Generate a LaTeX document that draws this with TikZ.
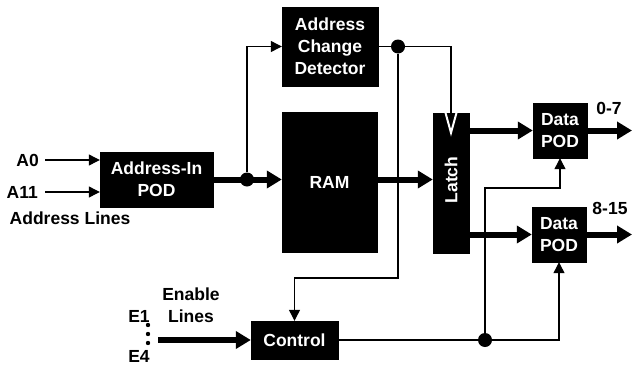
\documentclass[tikz,border=0pt]{standalone}
\usepackage{fontspec}
\setsansfont{Liberation Sans}
\usetikzlibrary{arrows.meta}

\begin{document}
\begin{tikzpicture}[
    x=1pt, y=-1pt,
    font=\sffamily\bfseries\fontsize{17.5}{22}\selectfont,
    block/.style={draw=black, fill=black, text=white, inner sep=0pt, align=center},
    lbl/.style={text=black, inner sep=0pt, align=center},
    wire/.style={line width=1.2pt},
    wirearrow/.style={wire, -{Triangle[length=11pt, width=11pt]}},
    bus/.style={line width=6pt, -{Triangle[length=15pt, width=17pt]}},
    dot/.style={circle, fill=black, inner sep=0pt, minimum size=14pt}
]
\useasboundingbox (0,0) rectangle (632,367);

\node[block, minimum width=113pt, minimum height=55pt] (aip) at (156.5,179.5) {Address-In\\POD};
\node[block, minimum width=96pt, minimum height=79pt] (acd) at (330,46.5) {Address\\Change\\Detector};
\node[block, minimum width=95pt, minimum height=140pt] (ram) at (329.5,182) {RAM};
\node[block, minimum width=36pt, minimum height=140pt] (latch) at (451,183) {};
\node[lbl, text=white, rotate=90] (latchtxt) at (451,180) {Latch};
\node[block, minimum width=54pt, minimum height=55pt] (pod1) at (560,130.5) {Data\\POD};
\node[block, minimum width=54pt, minimum height=55pt] (pod2) at (559,234.5) {Data\\POD};
\node[block, minimum width=87pt, minimum height=38pt] (ctrl) at (294.5,340) {Control};

\node[lbl, anchor=east] (a0) at (39,160) {A0};
\node[lbl, anchor=east] (a11) at (38,192) {A11};
\node[lbl] (addrlines) at (70,218) {Address Lines};
\node[lbl] (enlines) at (191,305) {Enable\\Lines};
\node[lbl] (e1) at (139,316) {E1};
\node[lbl] (e4) at (139,356) {E4};
\node[lbl] (lo) at (609,108) {0-7};
\node[lbl] (hi) at (610,208) {8-15};
\foreach \y in {325,334,343}
    \fill (148,\y) circle (2.2pt);

\node[dot] (dot1) at (247,179.5) {};
\node[dot] (dot2) at (398,46.5) {};
\node[dot] (dot3) at (485,340) {};

\coordinate (a0in) at (45,160);
\coordinate (a11in) at (45,192);
\coordinate (enin) at (158,340);
\coordinate (out1) at (632,130.5);
\coordinate (out2) at (632,234.5);
\coordinate (bendc) at (398,278);
\coordinate (bendd) at (485,188);

\draw[wirearrow] (a0in) -- (a0in -| aip.west);
\draw[wirearrow] (a11in) -- (a11in -| aip.west);
\draw[bus] (aip.east) -- (aip.east -| ram.west);
\draw[wirearrow] (dot1) |- (acd.west);
\draw[bus] (ram.east |- aip.east) -- (aip.east -| latch.west);
\draw[wire] (acd.east) -- (dot2) -| (latch.north);
\draw[white, line width=2pt] ([xshift=-5.5pt]latch.north) -- ([yshift=-20pt]latch.north) -- ([xshift=5.5pt]latch.north);
\draw[wirearrow] (dot2) -- (bendc) -| (ctrl.north);
\draw[bus] (latch.east |- pod1) -- (pod1.west);
\draw[bus] (latch.east |- pod2) -- (pod2.west);
\draw[bus] (pod1.east) -- (out1);
\draw[bus] (pod2.east) -- (out2);
\draw[bus] (enin) -- (ctrl.west);
\draw[wire] (ctrl.east) -- (dot3);
\draw[wirearrow] (dot3) -| (pod2.south);
\draw[wirearrow] (dot3) -- (bendd) -| (pod1.south);
\end{tikzpicture}
\end{document}
